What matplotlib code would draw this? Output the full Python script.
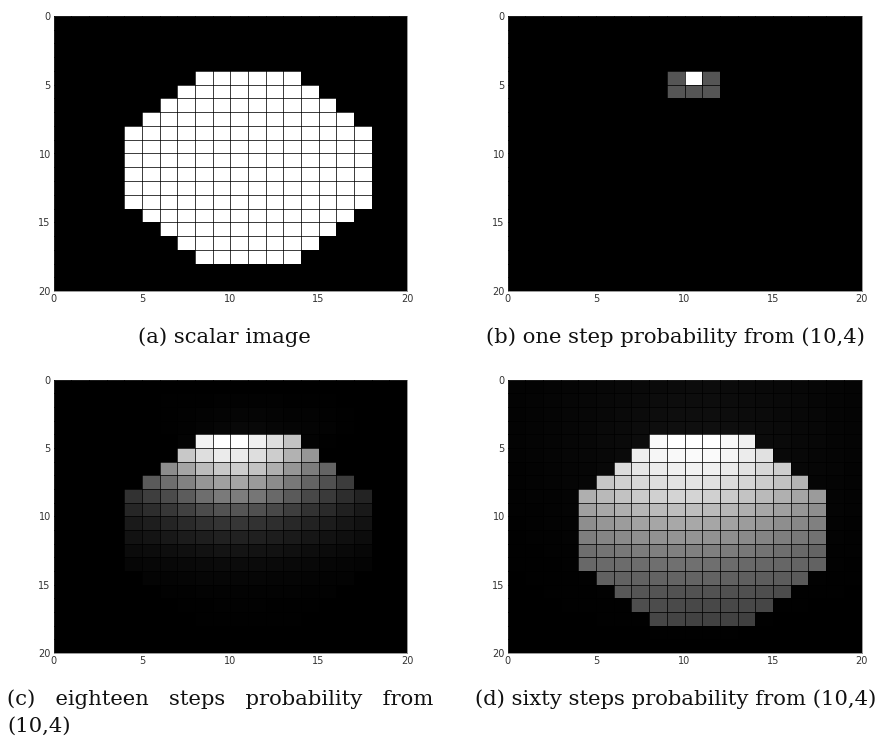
import numpy as np
import matplotlib
matplotlib.use('Agg')
import matplotlib.pyplot as plt

# valores de cinza (0-255), uma linha por celula da imagem 20x20
escalar = [
    [0] * 20, [0] * 20, [0] * 20, [0] * 20,
    [0, 0, 0, 0, 0, 0, 0, 0, 255, 255, 255, 255, 255, 255, 0, 0, 0, 0, 0, 0],
    [0, 0, 0, 0, 0, 0, 0, 255, 255, 255, 255, 255, 255, 255, 255, 0, 0, 0, 0, 0],
    [0, 0, 0, 0, 0, 0, 255, 255, 255, 255, 255, 255, 255, 255, 255, 255, 0, 0, 0, 0],
    [0, 0, 0, 0, 0, 255, 255, 255, 255, 255, 255, 255, 255, 255, 255, 255, 255, 0, 0, 0],
    [0, 0, 0, 0, 255, 255, 255, 255, 255, 255, 255, 255, 255, 255, 255, 255, 255, 255, 0, 0],
    [0, 0, 0, 0, 255, 255, 255, 255, 255, 255, 255, 255, 255, 255, 255, 255, 255, 255, 0, 0],
    [0, 0, 0, 0, 255, 255, 255, 255, 255, 255, 255, 255, 255, 255, 255, 255, 255, 255, 0, 0],
    [0, 0, 0, 0, 255, 255, 255, 255, 255, 255, 255, 255, 255, 255, 255, 255, 255, 255, 0, 0],
    [0, 0, 0, 0, 255, 255, 255, 255, 255, 255, 255, 255, 255, 255, 255, 255, 255, 255, 0, 0],
    [0, 0, 0, 0, 255, 255, 255, 255, 255, 255, 255, 255, 255, 255, 255, 255, 255, 255, 0, 0],
    [0, 0, 0, 0, 0, 255, 255, 255, 255, 255, 255, 255, 255, 255, 255, 255, 255, 0, 0, 0],
    [0, 0, 0, 0, 0, 0, 255, 255, 255, 255, 255, 255, 255, 255, 255, 255, 0, 0, 0, 0],
    [0, 0, 0, 0, 0, 0, 0, 255, 255, 255, 255, 255, 255, 255, 255, 0, 0, 0, 0, 0],
    [0, 0, 0, 0, 0, 0, 0, 0, 255, 255, 255, 255, 255, 255, 0, 0, 0, 0, 0, 0],
    [0] * 20, [0] * 20,
]

um_passo = [
    [0] * 20, [0] * 20, [0] * 20, [0] * 20,
    [0, 0, 0, 0, 0, 0, 0, 0, 0, 85, 255, 85, 0, 0, 0, 0, 0, 0, 0, 0],
    [0, 0, 0, 0, 0, 0, 0, 0, 0, 85, 85, 85, 0, 0, 0, 0, 0, 0, 0, 0],
    [0] * 20, [0] * 20, [0] * 20, [0] * 20, [0] * 20, [0] * 20, [0] * 20, [0] * 20,
    [0] * 20, [0] * 20, [0] * 20, [0] * 20, [0] * 20, [0] * 20,
]

dezoito_passos = [
    [0] * 20,
    [0, 0, 0, 0, 0, 0, 1, 1, 1, 2, 2, 2, 2, 1, 1, 1, 0, 0, 0, 0],
    [0, 0, 0, 0, 0, 0, 1, 2, 3, 4, 5, 5, 4, 3, 3, 2, 1, 0, 0, 0],
    [0, 0, 0, 0, 0, 0, 1, 2, 4, 6, 8, 8, 6, 5, 4, 3, 1, 0, 0, 0],
    [0, 0, 0, 0, 0, 0, 0, 3, 243, 255, 255, 240, 222, 195, 3, 1, 0, 0, 0, 0],
    [0, 0, 0, 0, 0, 0, 0, 200, 222, 235, 235, 222, 205, 178, 150, 0, 0, 0, 0, 0],
    [0, 0, 0, 0, 0, 0, 140, 165, 188, 200, 205, 195, 175, 150, 125, 100, 0, 0, 0, 0],
    [0, 0, 0, 0, 0, 90, 110, 130, 150, 160, 165, 155, 140, 120, 100, 80, 60, 0, 0, 0],
    [0, 0, 0, 0, 50, 62, 75, 92, 110, 122, 125, 118, 105, 90, 72, 58, 45, 35, 0, 0],
    [0, 0, 0, 0, 38, 45, 55, 65, 75, 82, 85, 80, 72, 62, 50, 42, 32, 25, 0, 0],
    [0, 0, 0, 0, 26, 30, 36, 42, 48, 52, 54, 50, 46, 40, 34, 28, 22, 18, 0, 0],
    [0, 0, 0, 0, 18, 20, 24, 28, 30, 33, 33, 32, 29, 26, 22, 18, 15, 12, 0, 0],
    [0, 0, 0, 0, 11, 12, 14, 16, 18, 20, 20, 19, 18, 16, 13, 11, 9, 7, 0, 0],
    [0, 0, 0, 0, 6, 7, 8, 9, 10, 11, 11, 11, 10, 9, 8, 6, 5, 4, 0, 0],
    [0, 0, 0, 0, 0, 4, 4, 5, 6, 6, 6, 6, 5, 5, 4, 3, 3, 0, 0, 0],
    [0, 0, 0, 0, 0, 0, 2, 2, 3, 3, 3, 3, 3, 3, 2, 2, 0, 0, 0, 0],
    [0, 0, 0, 0, 0, 0, 0, 1, 1, 2, 2, 2, 1, 1, 1, 0, 0, 0, 0, 0],
    [0, 0, 0, 0, 0, 0, 0, 0, 1, 1, 1, 1, 1, 1, 0, 0, 0, 0, 0, 0],
    [0] * 20, [0] * 20,
]

sessenta_passos = [
    [3, 3, 4, 5, 6, 7, 8, 9, 10, 11, 12, 12, 11, 10, 9, 8, 7, 6, 5, 4],
    [3, 4, 5, 6, 7, 8, 9, 10, 12, 13, 13, 13, 12, 11, 10, 9, 8, 6, 5, 4],
    [3, 4, 5, 6, 7, 8, 10, 11, 13, 14, 14, 14, 13, 12, 11, 9, 8, 7, 5, 4],
    [3, 4, 5, 6, 7, 9, 10, 12, 14, 15, 15, 15, 14, 13, 11, 10, 8, 7, 5, 4],
    [3, 4, 5, 6, 7, 9, 10, 12, 250, 255, 255, 255, 248, 240, 11, 10, 8, 7, 5, 4],
    [3, 4, 5, 6, 7, 8, 10, 238, 246, 249, 250, 250, 245, 236, 225, 9, 8, 6, 5, 4],
    [2, 3, 4, 5, 6, 8, 220, 230, 236, 240, 242, 240, 235, 226, 215, 205, 7, 6, 5, 3],
    [2, 3, 4, 5, 6, 198, 208, 216, 222, 226, 228, 225, 220, 213, 204, 194, 180, 5, 4, 3],
    [2, 3, 3, 4, 175, 185, 194, 202, 208, 212, 212, 208, 203, 195, 186, 176, 165, 155, 4, 3],
    [2, 2, 3, 4, 160, 168, 175, 182, 187, 190, 190, 187, 182, 175, 167, 160, 150, 142, 4, 3],
    [1, 2, 3, 3, 142, 150, 156, 162, 166, 168, 168, 166, 162, 156, 150, 142, 135, 128, 3, 2],
    [1, 2, 2, 3, 126, 133, 138, 143, 146, 148, 148, 146, 143, 138, 132, 126, 120, 114, 3, 2],
    [1, 1, 2, 2, 110, 116, 120, 124, 127, 128, 128, 127, 124, 120, 115, 110, 105, 100, 2, 2],
    [1, 1, 1, 2, 104, 106, 108, 109, 111, 112, 112, 111, 108, 105, 103, 102, 100, 98, 2, 1],
    [0, 1, 1, 1, 2, 97, 98, 98, 99, 100, 100, 99, 97, 95, 93, 92, 90, 2, 1, 1],
    [0, 0, 1, 1, 1, 2, 88, 85, 84, 82, 82, 82, 80, 80, 78, 76, 1, 1, 1, 0],
    [0, 0, 0, 1, 1, 1, 1, 78, 76, 74, 72, 72, 72, 72, 70, 1, 1, 0, 0, 0],
    [0, 0, 0, 0, 0, 1, 1, 1, 70, 68, 66, 66, 66, 64, 1, 0, 0, 0, 0, 0],
    [0, 0, 0, 0, 0, 0, 0, 0, 1, 1, 1, 1, 1, 0, 0, 0, 0, 0, 0, 0],
    [0] * 20,
]

ticks = [0, 5, 10, 15, 20]

LARGURA, ALTURA = 885, 737

fig = plt.figure(figsize=(LARGURA / 100, ALTURA / 100), dpi=100)


def painel(grade, esq, topo, dir, base):
    # posicao do eixo em pixels da imagem de referencia
    ax = fig.add_axes([esq / LARGURA, 1 - base / ALTURA,
                       (dir - esq) / LARGURA, (base - topo) / ALTURA])
    ax.pcolormesh(np.array(grade), cmap='gray', vmin=0, vmax=255)
    ax.set_xlim(0, 20)
    ax.set_ylim(20, 0)
    ax.set_xticks(ticks)
    ax.set_yticks(ticks)
    # linhas entre as celulas: grade nos ticks menores, inclusive sobre os maiores
    ax.xaxis.remove_overlapping_locs = False
    ax.yaxis.remove_overlapping_locs = False
    ax.set_xticks(range(21), minor=True)
    ax.set_yticks(range(21), minor=True)
    ax.set_axisbelow(False)
    ax.grid(which='minor', color='black', linewidth=0.72, alpha=0.75)
    ax.tick_params(which='both', labelsize=7, length=0, pad=2, labelcolor='#333333')
    for lado in ax.spines.values():
        lado.set_linewidth(0.6)
        lado.set_color('#888888')
    return ax


painel(escalar, 53.5, 16, 407, 291)
painel(um_passo, 507.5, 16, 861.5, 291)
painel(dezoito_passos, 53.5, 379.5, 407, 653)
painel(sessenta_passos, 507.5, 379.5, 861.5, 653)


def legenda(x, y, texto, ha='center'):
    fig.text(x / LARGURA, 1 - y / ALTURA, texto, ha=ha, va='center',
             family='DejaVu Serif', fontsize=15.2, color='#111111')


legenda(224.5, 337, '(a) scalar image')
legenda(675.5, 337, '(b) one step probability from (10,4)')
legenda(7, 699, '(c)   eighteen   steps   probability   from', ha='left')
legenda(7, 726, '(10,4)', ha='left')
legenda(675.5, 699, '(d) sixty steps probability from (10,4)')

plt.savefig('out.png', dpi=100)
